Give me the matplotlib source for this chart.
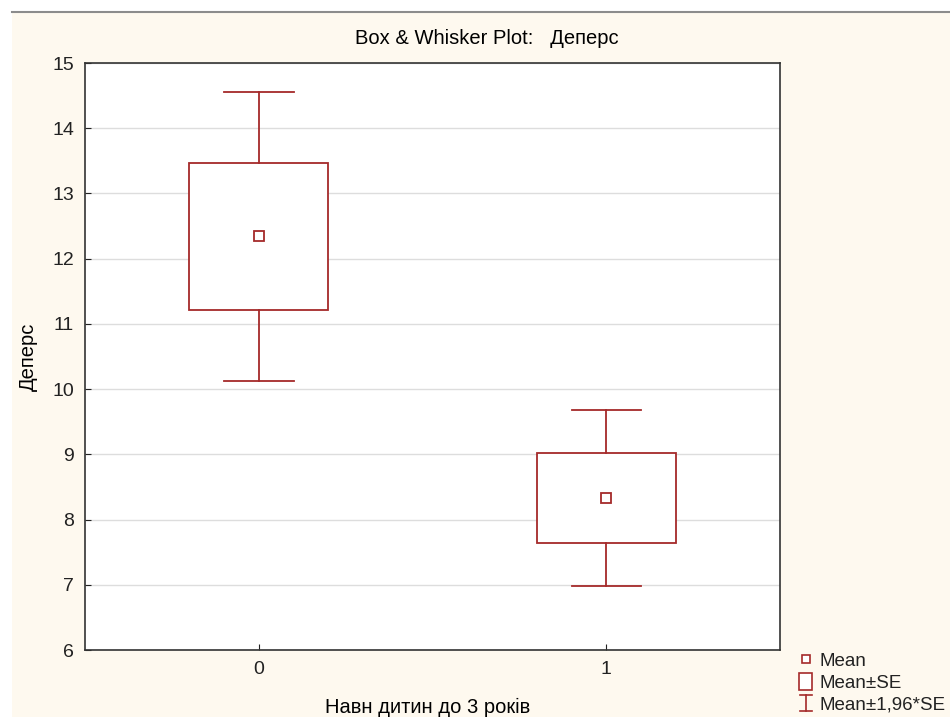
import matplotlib.pyplot as plt
from matplotlib.patches import Rectangle
from matplotlib.lines import Line2D
from matplotlib.legend_handler import HandlerBase
import numpy as np

plt.rcParams['font.family'] = ['Liberation Sans', 'DejaVu Sans']

groups = [0, 1]
means = [12.34, 8.33]
se = [1.13, 0.69]
title = 'Box & Whisker Plot:   Деперс'
ylabel = 'Деперс'
xlabel = 'Навн дитин до 3 років'

red = '#a52a2a'
bg = '#fef9ef'


class HandlerWhisker(HandlerBase):
    # vertical bar with caps, like the whiskers on the plot
    def create_artists(self, legend, orig_handle, xdescent, ydescent,
                       width, height, fontsize, trans):
        cx = width / 2 - xdescent
        y0 = -ydescent - 0.1 * height
        y1 = height - ydescent + 0.1 * height
        w = 0.35 * width
        lines = [
            Line2D([cx, cx], [y0, y1]),
            Line2D([cx - w, cx + w], [y0, y0]),
            Line2D([cx - w, cx + w], [y1, y1]),
        ]
        for ln in lines:
            ln.set_color(red)
            ln.set_linewidth(1.2)
            ln.set_transform(trans)
        return lines


class HandlerBox(HandlerBase):
    def create_artists(self, legend, orig_handle, xdescent, ydescent,
                       width, height, fontsize, trans):
        w = 0.8 * width
        h = 1.25 * height
        r = Rectangle((width / 2 - xdescent - w / 2, -ydescent - 0.15 * height), w, h,
                      facecolor='white', edgecolor=red, linewidth=1.2, transform=trans)
        return [r]


fig = plt.figure(figsize=(9.5, 7.17), dpi=100, facecolor=bg)
# white margin at left and top, with a grey rule above the panel
fig.patches.append(Rectangle((0, 0), 12 / 950, 1, transform=fig.transFigure,
                             facecolor='white', edgecolor='none', zorder=-5))
fig.patches.append(Rectangle((0, 1 - 12 / 717), 1, 12 / 717, transform=fig.transFigure,
                             facecolor='white', edgecolor='none', zorder=-5))
fig.lines.append(Line2D([12 / 950, 1], [1 - 12 / 717, 1 - 12 / 717], transform=fig.transFigure,
                        color='#8c8c8c', linewidth=1.5, zorder=-4))

ax = fig.add_axes([85 / 950, 1 - 650 / 717, 695 / 950, 587 / 717])
ax.set_facecolor('white')

box_w = 0.4
cap_w = 0.2
for g, m, s in zip(groups, means, se):
    lo, hi = m - s, m + s
    wlo, whi = m - 1.96 * s, m + 1.96 * s
    ax.add_patch(Rectangle((g - box_w / 2, lo), box_w, hi - lo, facecolor='white',
                           edgecolor=red, linewidth=1.3, zorder=3))
    ax.plot([g, g], [hi, whi], color=red, lw=1.3, zorder=3)
    ax.plot([g, g], [wlo, lo], color=red, lw=1.3, zorder=3)
    ax.plot([g - cap_w / 2, g + cap_w / 2], [whi, whi], color=red, lw=1.3, zorder=3)
    ax.plot([g - cap_w / 2, g + cap_w / 2], [wlo, wlo], color=red, lw=1.3, zorder=3)
    ax.plot([g], [m], marker='s', ms=7, mfc='white', mec=red, mew=1.3, zorder=4)

ax.set_xlim(-0.5, 1.5)
ax.set_ylim(6, 15)
ax.set_xticks(groups)
ax.set_yticks(np.arange(6, 16, 1))
ax.grid(axis='y', color='#dddddd', lw=1)
ax.set_axisbelow(True)
ax.tick_params(direction='in', length=4, labelsize=14, colors='#222222', pad=8)
for sp in ax.spines.values():
    sp.set_color('#333333')
    sp.set_linewidth(1.2)

ax.set_ylabel(ylabel, fontsize=14.5, labelpad=10)
fig.text(428 / 950, 1 - 707 / 717, xlabel, ha='center', va='center', fontsize=14.5)
fig.text(487 / 950, 1 - 38 / 717, title, ha='center', va='center', fontsize=14.5)

h_mean = Line2D([], [], marker='s', ls='none', ms=6, mfc='white', mec=red, mew=1.2)
h_rect = Rectangle((0, 0), 1, 1)
h_bar = Line2D([], [])
leg = fig.legend([h_mean, h_rect, h_bar],
                 ['Mean', 'Mean±SE', 'Mean±1,96*SE'],
                 handler_map={h_rect: HandlerBox(), h_bar: HandlerWhisker()},
                 loc='lower left', bbox_to_anchor=(786 / 950, -0.011), frameon=False,
                 fontsize=13.5, handlelength=0.9, handletextpad=0.3, labelspacing=0.25,
                 borderpad=0.1)
for t in leg.get_texts():
    t.set_color('#222222')

fig.savefig('out.png', dpi=100, facecolor=fig.get_facecolor())
